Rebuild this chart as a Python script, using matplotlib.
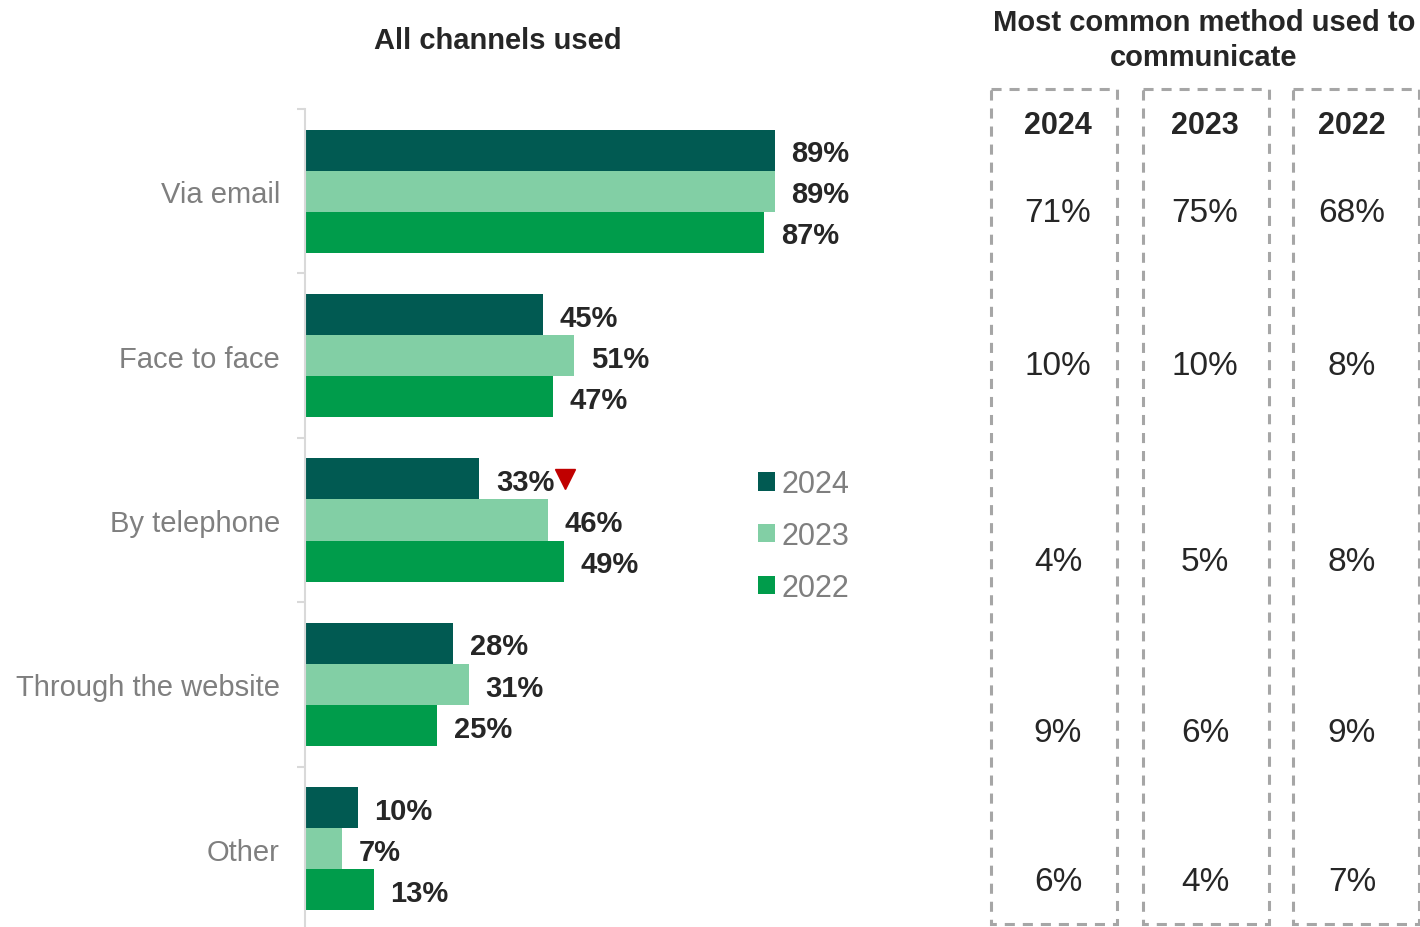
import matplotlib.pyplot as plt
from matplotlib.patches import Patch, Rectangle
from matplotlib import transforms
import numpy as np

plt.rcParams['font.family'] = ['Liberation Sans', 'DejaVu Sans']

# all channels used, by year (%)
channels = ['Via email', 'Face to face', 'By telephone', 'Through the website', 'Other']
years = ['2024', '2023', '2022']
v2024 = [89, 45, 33, 28, 10]
v2023 = [89, 51, 46, 31, 7]
v2022 = [87, 47, 49, 25, 13]
# significant decrease flag on the 2024 series
decrease_2024 = [False, False, True, False, False]

# most common method used to communicate (%)
common_2024 = [71, 10, 4, 9, 6]
common_2023 = [75, 10, 5, 6, 4]
common_2022 = [68, 8, 8, 9, 7]

colors = ['#015A52', '#82CFA5', '#009C4B']
text_dark = '#262626'
label_grey = '#7F7F7F'

W, H = 1420, 928
fig = plt.figure(figsize=(W / 100, H / 100), dpi=100)

# --- bar chart ---
ax = fig.add_axes([305 / W, (H - 932) / H, 528 / W, 822 / H])
y = np.arange(len(channels))
bh = 0.25
series = [v2024, v2023, v2022]
for k, (vals, col) in enumerate(zip(series, colors)):
    ax.barh(y + (k - 1) * bh, vals, height=bh, color=col, linewidth=0)
    for yi, v in zip(y, vals):
        ax.annotate(f'{v}%', xy=(v, yi + (k - 1) * bh), xytext=(12, -8),
                    textcoords='offset points', ha='left', va='baseline',
                    fontsize=21, fontweight='bold', color=text_dark)

# red down-arrow after flagged values
for yi, v, flag in zip(y, v2024, decrease_2024):
    if flag:
        tr = transforms.offset_copy(ax.transData, fig=fig, x=86, y=0, units='dots')
        ax.plot(v, yi - bh, marker='v', markersize=15, color='#C00000',
                linestyle='none', transform=tr, clip_on=False)

ax.set_xlim(0, 100)
ax.set_ylim(len(channels) - 0.5, -0.5)
ax.set_yticks(y, channels)
ax.set_yticks(np.arange(len(channels) + 1) - 0.5, minor=True)
ax.tick_params(axis='y', which='major', length=0, pad=18, labelsize=21,
               labelcolor=label_grey)
ax.tick_params(axis='y', which='minor', length=6, width=1.5, color='#D9D9D9')
ax.set_xticks([])
for s in ['top', 'right', 'bottom']:
    ax.spines[s].set_visible(False)
ax.spines['left'].set_color('#D9D9D9')
ax.spines['left'].set_linewidth(1.5)

handles = [Patch(facecolor=c, edgecolor='none') for c in colors]
fig.legend(handles, years, loc='upper left', bbox_to_anchor=(743 / W, 1 - 455 / H),
           frameon=False, fontsize=22, labelcolor='#7F7F7F', handlelength=0.55,
           handleheight=0.55, handletextpad=0.2, labelspacing=0.71, borderpad=0)

fig.text(498 / W, 1 - 41 / H, 'All channels used', ha='center', va='center',
         fontsize=21, fontweight='bold', color=text_dark)

# --- most common method panel ---
ov = fig.add_axes([0, 0, 1, 1])
ov.set_xlim(0, W)
ov.set_ylim(H, 0)
ov.axis('off')

ov.text(1204, 40.5, 'Most common method used to\ncommunicate', ha='center',
        va='center', fontsize=21, fontweight='bold', color=text_dark,
        linespacing=1.31)

box_left = [991, 1143, 1293]
box_width = 126
col_x = [1058, 1205, 1352]
row_y = [214, 367, 563, 734, 883]
for left, cx, yr, vals in zip(box_left, col_x, years,
                              [common_2024, common_2023, common_2022]):
    ov.add_patch(Rectangle((left, 90), box_width, 835, fill=False,
                           edgecolor='#A6A6A6', linewidth=2.2,
                           linestyle=(0, (3.3, 2.6))))
    ov.text(cx, 126, yr, ha='center', va='center', fontsize=22,
            fontweight='bold', color=text_dark)
    for ry, v in zip(row_y, vals):
        ov.text(cx, ry, f'{v}%', ha='center', va='center', fontsize=24,
                color=text_dark)

fig.savefig('out.png', dpi=100)
